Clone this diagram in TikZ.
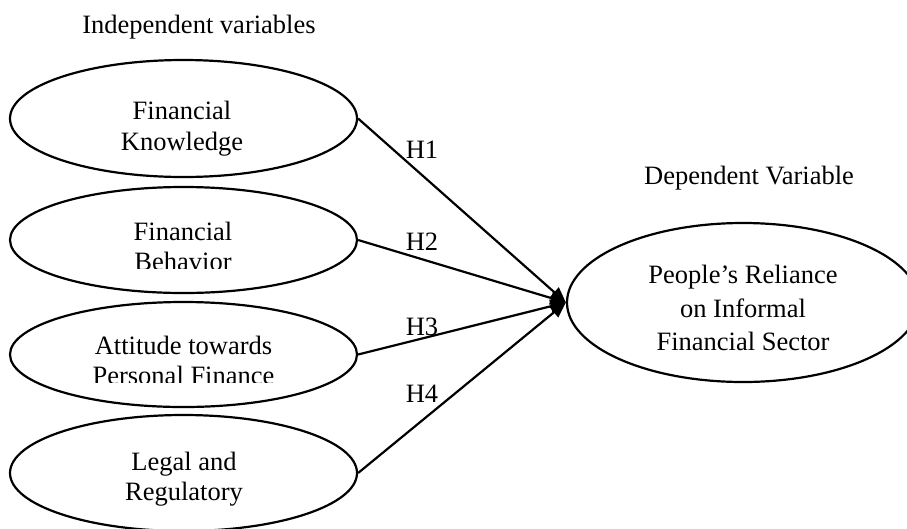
\documentclass[tikz,border=0pt]{standalone}
\usepackage{fontspec}
\setmainfont{Liberation Serif}
\usetikzlibrary{shapes.geometric,arrows.meta}
\tikzset{
  var/.style={ellipse, draw, line width=2.2pt, inner sep=0pt},
  lbl/.style={font=\fontsize{26.5}{30.5}\selectfont, align=center, anchor=base, inner sep=0pt},
  rlbl/.style={font=\fontsize{26.5}{33.5}\selectfont, align=center, anchor=base, inner sep=0pt},
  conn/.style={line width=2.2pt, -{Triangle[length=15.5pt,width=13pt]}},
}
\begin{document}
\begin{tikzpicture}[x=1pt,y=-1pt]
\useasboundingbox (0,0) rectangle (907,528);
% ellipses
\node[var, minimum width=347, minimum height=117] (e1) at (183.5,118.5) {};
\node[var, minimum width=347, minimum height=106] (e2) at (183.5,240) {};
\node[var, minimum width=347, minimum height=105] (e3) at (183.5,354.5) {};
\node[var, minimum width=347, minimum height=116] (e4) at (183.5,473) {};
\node[var, minimum width=352, minimum height=159] (dep) at (743,302.5) {};
% headings
\node[lbl] (ih) at (199,33) {Independent variables};
\node[lbl] (dh) at (749,184) {Dependent Variable};
% texts (clipped like the original text boxes); anchor = baseline of last line
\begin{scope}
\clip (0,0) rectangle (907,155);
\node[lbl] (t1) at (182,150) {Financial\\Knowledge};
\end{scope}
\begin{scope}
\clip (0,180) rectangle (907,268);
\node[lbl] (t2) at (183,270.5) {Financial\\Behavior};
\end{scope}
\begin{scope}
\clip (0,300) rectangle (907,382);
\node[lbl] (t3) at (183.5,384.5) {Attitude towards\\Personal Finance};
\end{scope}
\node[lbl] (t4) at (184,500.5) {Legal and\\Regulatory};
\node[rlbl] (t5) at (743,350.5) {People’s Reliance\\on Informal\\Financial Sector};
% connectors
\draw[conn] (e1.east) -- (dep.west);
\draw[conn] (e2.east) -- (dep.west);
\draw[conn] (e3.east) -- (dep.west);
\draw[conn] (e4.east) -- (dep.west);
% hypothesis labels
\node[lbl] (h1) at (422,158) {H1};
\node[lbl] (h2) at (422,250) {H2};
\node[lbl] (h3) at (422,335) {H3};
\node[lbl] (h4) at (422,402) {H4};
\end{tikzpicture}
\end{document}
